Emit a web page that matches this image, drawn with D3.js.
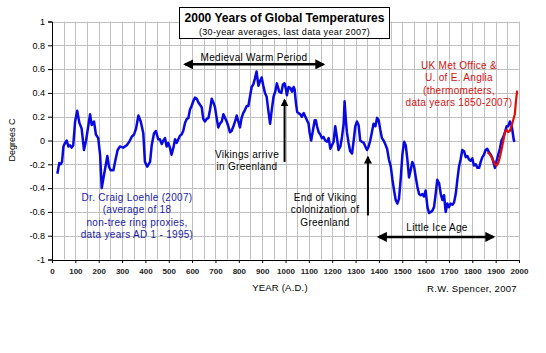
<!DOCTYPE html>
<html>
<head>
<meta charset="utf-8">
<title>2000 Years of Global Temperatures</title>
<script src="https://cdnjs.cloudflare.com/ajax/libs/d3/7.8.5/d3.min.js"></script>
<style>
  body { margin: 0; background: #fff; }
  text { font-family: "Liberation Sans", Arial, sans-serif; }
</style>
</head>
<body>
<svg width="546" height="353" id="mainsvg"></svg>
<script>
// Loehle (2007) 30-year averages
const loehleYears = [23, 31, 37, 43, 49, 56, 63, 70, 77, 84, 91, 99, 108, 117, 127, 137, 146, 156, 163, 170,
  180, 188, 198, 206, 213, 220, 237, 244, 251, 263, 270, 281, 291, 305, 320, 331, 341, 351, 360, 370,
  380, 391, 398, 408, 420, 427, 437, 445, 455, 462, 470, 477, 484, 491, 498, 505, 512, 520, 527, 534,
  541, 548, 555, 562, 570, 577, 584, 591, 598, 605, 612, 620, 627, 634, 641, 648, 655, 662, 670, 677,
  684, 691, 698, 705, 712, 719, 727, 734, 741, 748, 755, 762, 769, 777, 784, 791, 798, 805, 812, 819,
  827, 834, 841, 848, 855, 862, 869, 876, 884, 891, 898, 905, 912, 919, 926, 934, 942, 949, 956, 963,
  973, 982, 989, 996, 1002, 1006, 1013, 1021, 1028, 1035, 1039, 1045, 1050, 1056, 1063, 1070, 1078, 1085, 1092, 1099,
  1103, 1110, 1118, 1125, 1130, 1135, 1142, 1149, 1156, 1163, 1170, 1178, 1185, 1192, 1199, 1206, 1213, 1220, 1227, 1235,
  1242, 1249, 1253, 1259, 1263, 1270, 1277, 1285, 1292, 1299, 1306, 1313, 1320, 1327, 1335, 1342, 1349, 1356, 1363, 1370,
  1377, 1385, 1392, 1399, 1406, 1413, 1420, 1427, 1435, 1443, 1451, 1458, 1465, 1472, 1479, 1486, 1493, 1501, 1508, 1515,
  1522, 1529, 1536, 1543, 1550, 1558, 1565, 1572, 1579, 1586, 1593, 1600, 1608, 1615, 1622, 1629, 1636, 1643, 1650, 1658,
  1665, 1672, 1679, 1686, 1693, 1700, 1707, 1715, 1722, 1729, 1736, 1743, 1750, 1757, 1765, 1772, 1779, 1786, 1793, 1800,
  1807, 1815, 1822, 1829, 1836, 1843, 1850, 1857, 1864, 1872, 1879, 1886, 1893, 1897, 1904, 1911, 1918, 1925, 1933, 1940,
  1947, 1954, 1961, 1968, 1972, 1978, 1982];
const loehleTemps = [-0.28, -0.19, -0.20, -0.18, -0.05, -0.02, 0.00, -0.05, -0.04, -0.06, -0.04, 0.16, 0.25, 0.15, 0.10, -0.08, 0.00, 0.13, 0.22, 0.13,
  0.16, 0.05, 0.02, -0.12, -0.40, -0.32, -0.13, -0.22, -0.25, -0.25, -0.18, -0.08, -0.05, -0.06, -0.04, -0.01, 0.03, 0.05, 0.10, 0.21,
  0.16, 0.06, -0.18, -0.22, -0.18, -0.04, 0.06, 0.08, 0.01, 0.01, -0.03, 0.00, 0.02, -0.05, -0.02, -0.06, -0.12, -0.06, 0.01, -0.02,
  0.01, 0.04, 0.05, 0.08, 0.15, 0.18, 0.19, 0.26, 0.29, 0.33, 0.36, 0.35, 0.32, 0.30, 0.28, 0.18, 0.16, 0.18, 0.19, 0.26,
  0.35, 0.32, 0.28, 0.19, 0.11, 0.14, 0.16, 0.22, 0.19, 0.16, 0.12, 0.07, 0.08, 0.12, 0.16, 0.21, 0.16, 0.11, 0.19, 0.23,
  0.26, 0.29, 0.29, 0.37, 0.45, 0.47, 0.52, 0.58, 0.46, 0.50, 0.53, 0.46, 0.40, 0.37, 0.26, 0.14, 0.27, 0.37, 0.41, 0.48,
  0.41, 0.40, 0.47, 0.48, 0.43, 0.38, 0.45, 0.44, 0.41, 0.45, 0.43, 0.31, 0.24, 0.23, 0.22, 0.20, 0.23, 0.20, 0.17, 0.14,
  0.07, 0.00, 0.09, 0.17, 0.17, 0.12, 0.07, 0.05, 0.02, 0.03, 0.00, -0.01, 0.02, -0.07, -0.04, -0.01, 0.12, 0.03, -0.08, -0.05,
  0.03, 0.14, 0.33, 0.16, 0.07, -0.02, -0.09, -0.11, 0.00, 0.12, 0.16, 0.13, 0.00, -0.01, -0.02, -0.05, -0.08, -0.05, 0.00, 0.07,
  0.14, 0.12, 0.19, 0.17, 0.09, 0.02, 0.00, -0.03, -0.07, -0.16, -0.22, -0.33, -0.42, -0.50, -0.53, -0.49, -0.33, -0.11, -0.01, -0.04,
  -0.16, -0.31, -0.25, -0.18, -0.21, -0.31, -0.39, -0.45, -0.46, -0.45, -0.47, -0.42, -0.56, -0.61, -0.60, -0.59, -0.56, -0.45, -0.33, -0.36,
  -0.45, -0.50, -0.46, -0.60, -0.53, -0.56, -0.53, -0.54, -0.52, -0.45, -0.33, -0.22, -0.16, -0.08, -0.09, -0.14, -0.13, -0.16, -0.17, -0.15,
  -0.21, -0.20, -0.23, -0.23, -0.18, -0.14, -0.12, -0.08, -0.07, -0.10, -0.12, -0.15, -0.20, -0.23, -0.17, -0.12, -0.07, 0.00, 0.03, 0.07,
  0.12, 0.12, 0.16, 0.13, 0.08, 0.00, -0.01];

// UK Met Office / UEA thermometer record, 30-year averages
const hadcrutYears = [1865, 1872, 1880, 1890, 1897, 1904, 1911, 1918, 1925, 1933, 1940, 1947, 1954, 1961, 1968, 1975, 1982, 1987, 1992];
const hadcrutTemps = [-0.10, -0.11, -0.13, -0.17, -0.20, -0.21, -0.19, -0.14, -0.08, 0.00, 0.07, 0.09, 0.07, 0.08, 0.12, 0.17, 0.22, 0.33, 0.42];

const xTicks = d3.range(0, 2001, 100);
const yTicks = [1, 0.8, 0.6, 0.4, 0.2, 0, -0.2, -0.4, -0.6, -0.8, -1];
const yTickLabels = ['1', '0.8', '0.6', '0.4', '0.2', '0', '-0.2', '-0.4', '-0.6', '-0.8', '-1'];
const xGrid = d3.range(50, 2001, 50);

const svg = d3.select('#mainsvg');
const width = +svg.attr('width');
const height = +svg.attr('height');
svg.append('rect').attr('width', width).attr('height', height).attr('fill', '#fff');

const xScale = d3.scaleLinear().domain([0, 2000]).range([52, 519]);
const yScale = d3.scaleLinear().domain([-1, 1]).range([259.5, 21.5]);
const px = v => Math.round(v) + 0.5;

// gridlines
const grid = svg.append('g').attr('stroke', '#c0c0c0').attr('stroke-width', 1);
grid.selectAll('.vgrid').data(xGrid).join('line').attr('class', 'vgrid')
  .attr('x1', d => px(xScale(d))).attr('x2', d => px(xScale(d)))
  .attr('y1', yScale(1)).attr('y2', yScale(-1));
grid.selectAll('.hgrid').data(yTicks.filter(d => d > -1)).join('line').attr('class', 'hgrid')
  .attr('x1', xScale(0)).attr('x2', xScale(2000))
  .attr('y1', d => px(yScale(d))).attr('y2', d => px(yScale(d)));

// axes
const yAxis = d3.axisLeft(yScale).tickValues(yTicks).tickSize(4).tickPadding(3)
  .tickFormat((d, i) => yTickLabels[i]);
const xAxis = d3.axisBottom(xScale).tickValues(xTicks).tickSize(3).tickPadding(5)
  .tickFormat(d => d);
const yg = svg.append('g').attr('transform', `translate(${px(xScale(0)) - 0.5},0)`).call(yAxis);
const xg = svg.append('g').attr('transform', `translate(0,${px(yScale(-1)) - 0.5})`).call(xAxis);
yg.selectAll('text').attr('font-size', '9px');
xg.selectAll('text').attr('font-size', '8px').attr('font-weight', 'bold').attr('fill', '#222');
svg.selectAll('.domain').attr('stroke', '#000');

// series
const line = d3.line().x(d => xScale(d[0])).y(d => yScale(d[1]));
svg.append('path').datum(d3.zip(loehleYears, loehleTemps))
  .attr('d', line).attr('fill', 'none').attr('stroke', '#0808e0')
  .attr('stroke-width', 2.5).attr('stroke-linejoin', 'round');
svg.append('path').datum(d3.zip(hadcrutYears, hadcrutTemps))
  .attr('d', line).attr('fill', 'none').attr('stroke', '#e00c0c')
  .attr('stroke-width', 2.2).attr('stroke-linejoin', 'round');

// arrowheads
const defs = svg.append('defs');
defs.append('marker').attr('id', 'head').attr('viewBox', '0 0 10 10')
  .attr('refX', 8).attr('refY', 5).attr('markerWidth', 4).attr('markerHeight', 4)
  .attr('orient', 'auto-start-reverse')
  .append('path').attr('d', 'M0,0 L10,5 L0,10 z').attr('fill', '#000');

function arrow(x1, y1, x2, y2, both, w) {
  svg.append('line').attr('x1', x1).attr('y1', y1).attr('x2', x2).attr('y2', y2)
    .attr('stroke', '#000').attr('stroke-width', w)
    .attr('marker-end', 'url(#head)')
    .attr('marker-start', both ? 'url(#head)' : null);
}
arrow(xScale(570), yScale(0.64), xScale(1162), yScale(0.64), true, 2.5);
arrow(xScale(1400), yScale(-0.81), xScale(1890), yScale(-0.81), true, 2.5);
arrow(xScale(996), yScale(-0.18), xScale(996), yScale(0.34), false, 2);
arrow(xScale(1353), yScale(-0.63), xScale(1353), yScale(-0.14), false, 2);

// annotation text
function label(lines, x, y, color) {
  const t = svg.append('text').attr('text-anchor', 'middle').attr('fill', color)
    .attr('font-size', '10px').attr('letter-spacing', '0.3px');
  lines.forEach((s, i) => t.append('tspan').attr('x', x).attr('y', y + i * 12.5).text(s));
}
label(['Medieval Warm Period'], 254, 60.5, '#000');
label(['Vikings arrive', 'in Greenland'], 247, 157.5, '#000');
label(['End of Viking', 'colonization of', 'Greenland'], 325, 200.5, '#000');
label(['Little Ice Age'], 437, 230.5, '#000');
label(['Dr. Craig Loehle (2007)', '(average of 18', 'non-tree ring proxies,', 'data years AD 1 - 1995)'], 137, 200.5, '#1c1ca8');
label(['UK Met Office &', 'U. of E. Anglia', '(thermometers,', 'data years 1850-2007)'], 459, 68.5, '#d41010');

// title box
svg.append('rect').attr('x', 179.5).attr('y', 7.5).attr('width', 210).attr('height', 31)
  .attr('fill', '#fff').attr('stroke', '#000');
svg.append('text').attr('x', 284.5).attr('y', 22).attr('text-anchor', 'middle')
  .attr('font-size', '12.5px').attr('font-weight', 'bold')
  .attr('textLength', 200).attr('lengthAdjust', 'spacingAndGlyphs')
  .text('2000 Years of Global Temperatures');
svg.append('text').attr('x', 284.5).attr('y', 35).attr('text-anchor', 'middle')
  .attr('font-size', '9px').attr('letter-spacing', '0.35px')
  .text('(30-year averages, last data year 2007)');

// axis titles
svg.append('text').attr('transform', 'translate(15,140) rotate(-90)').attr('text-anchor', 'middle')
  .attr('font-size', '9px').text('Degrees C');
svg.append('text').attr('x', 280).attr('y', 291).attr('text-anchor', 'middle')
  .attr('font-size', '9.5px').attr('letter-spacing', '0.2px').text('YEAR (A.D.)');
svg.append('text').attr('x', 472).attr('y', 292).attr('text-anchor', 'middle')
  .attr('font-size', '9.5px').attr('letter-spacing', '0.3px').text('R.W. Spencer, 2007');
</script>
</body>
</html>
